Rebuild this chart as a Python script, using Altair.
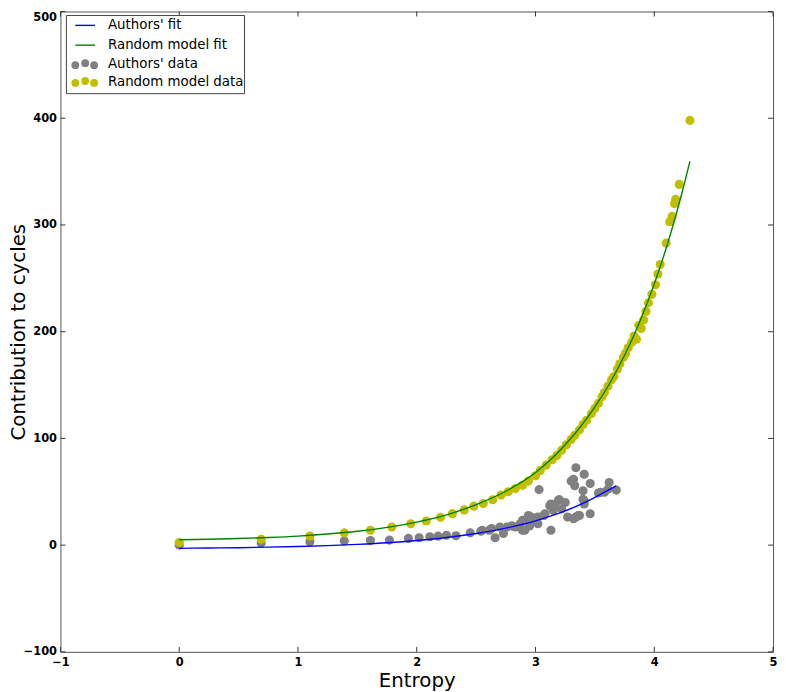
import altair as alt
import pandas as pd

# ---------------- data ----------------
rand_x = [0.00, 0.69, 1.10, 1.39, 1.61, 1.79, 1.95, 2.08, 2.20, 2.30,
          2.40, 2.48, 2.56, 2.64, 2.71, 2.77, 2.83, 2.89, 2.94, 3.00,
          3.04, 3.09, 3.14, 3.18, 3.22, 3.26, 3.30, 3.33, 3.37, 3.40,
          3.43, 3.47, 3.50, 3.53, 3.56, 3.58, 3.61, 3.64, 3.66, 3.69,
          3.71, 3.74, 3.76, 3.78, 3.81, 3.83, 3.85, 3.87, 3.89, 3.91,
          3.93, 3.95, 3.98, 4.01, 4.03, 4.05, 4.10, 4.13, 4.15, 4.17,
          4.18, 4.21, 4.30]
rand_y = [2.5, 5.5, 8.5, 11.5, 14, 17, 20, 22.6, 26, 29.5,
          33, 36.5, 39, 42.5, 47, 50, 53, 56, 60, 65,
          70, 75, 80, 84, 89, 94, 99, 103, 108, 113,
          117, 123, 128, 133, 139, 143, 149, 155, 158, 165,
          170, 176, 180, 185, 190, 196, 193, 206, 203, 211,
          219, 227, 235, 244, 254, 263, 283, 303, 308, 320,
          324, 338, 398]

auth_x = [0.00, 0.69, 1.10, 1.39, 1.61, 1.77, 1.93, 2.02, 2.11, 2.18,
          2.25, 2.33, 2.45, 2.54, 2.55, 2.61, 2.63, 2.66, 2.70, 2.73,
          2.76, 2.80, 2.83, 2.87, 2.89, 2.89, 2.91, 2.93, 2.95, 2.95,
          2.94, 2.97, 3.02, 3.02, 3.03, 3.07, 3.08, 3.12, 3.13, 3.13,
          3.15, 3.16, 3.19, 3.20, 3.22, 3.25, 3.27, 3.30, 3.32, 3.32,
          3.33, 3.34, 3.34, 3.36, 3.37, 3.40, 3.40, 3.41, 3.41, 3.41,
          3.46, 3.46, 3.53, 3.55, 3.58, 3.61, 3.62, 3.68]
auth_y = [0, 2, 3.2, 3.8, 4.4, 4.7, 6.3, 6.9, 7.9, 8.4,
          9.3, 8.8, 11.5, 13, 14, 14, 15.5, 6.9, 17, 10.9,
          17, 18, 17, 20, 14, 23.2, 14, 24.8, 18, 20,
          27.8, 26, 20, 26.3, 52, 27.8, 29.4, 37, 14, 38.6,
          32.4, 35.6, 41.7, 42.6, 34, 40, 26.3, 60, 61.7, 24.8,
          55.6, 72.5, 26.3, 27.8, 27.8, 51, 43, 66.4, 38.6, 41.7,
          57.8, 29.4, 48.8, 49.5, 49.5, 52.5, 58.7, 51.6]

afit_x = [0, 0.25, 0.5, 0.75, 1.0, 1.25, 1.5, 1.75, 2.0, 2.25,
          2.5, 2.75, 3.0, 3.125, 3.25, 3.375, 3.5, 3.6, 3.68]
afit_y = [-3.0, -2.7, -2.4, -1.9, -1.3, -0.5, 0.7, 2.2, 4.3, 7.1,
          10.9, 16.0, 22.8, 27.1, 32.1, 37.9, 44.7, 50.8, 55.6]

rfit_x = [0, 0.25, 0.5, 0.75, 1.0, 1.25, 1.5, 1.75, 2.0, 2.25,
          2.5, 2.75, 3.0, 3.25, 3.5, 3.625, 3.75, 3.875, 4.0, 4.075,
          4.15, 4.225, 4.3]
rfit_y = [5.0, 5.5, 6.2, 7.2, 8.5, 10.4, 13.0, 16.6, 21.6, 28.4,
          38.0, 50.5, 68.0, 94.0, 129.5, 151.7, 177.9, 208.6, 244.8, 269.4,
          296.7, 326.7, 359.7]

x_ticks = [-1, 0, 1, 2, 3, 4, 5]
y_ticks = [-100, 0, 100, 200, 300, 400, 500]

legend_labels = ["Authors' fit", "Random model fit", "Authors' data", "Random model data"]

# ---------------- styling ----------------
W, H = 720, 647
BLUE, GREEN, GRAY, YELLOW = "#0000ff", "#008000", "#808080", "#bfbf00"
FONT = "DejaVu Sans"

xscale = alt.Scale(domain=[-1, 5], nice=False, zero=False)
yscale = alt.Scale(domain=[-100, 500], nice=False, zero=False)

xaxis = alt.Axis(values=x_ticks, format="d", grid=False, domain=False, tickSize=0,
                 labelFont=FONT, labelFontWeight="bold", labelFontSize=11.5,
                 labelColor="#000", labelPadding=5, labelFlush=False, labelOverlap=False,
                 title="Entropy", titleFont=FONT, titleFontSize=20,
                 titleFontWeight="normal", titleColor="#000", titlePadding=3)
yaxis = alt.Axis(values=y_ticks, format="d", grid=False, domain=False, tickSize=0,
                 labelFont=FONT, labelFontWeight="bold", labelFontSize=11.5,
                 labelColor="#000", labelPadding=4, labelOverlap=False,
                 labelBaseline={"condition": {"test": "datum.value == 500", "value": "top"},
                                "value": "middle"},
                 title="Contribution to cycles", titleFont=FONT, titleFontSize=20,
                 titleFontWeight="normal", titleColor="#000",
                 titleX=-42, titleY=H / 2, titleBaseline="middle", titleAlign="center",
                 titleAngle=270)


def X(f):
    return alt.X(f, type="quantitative", scale=xscale, axis=xaxis)


def Y(f):
    return alt.Y(f, type="quantitative", scale=yscale, axis=yaxis)


auth_df = pd.DataFrame({"x": auth_x, "y": auth_y})
rand_df = pd.DataFrame({"x": rand_x, "y": rand_y})
afit_df = pd.DataFrame({"x": afit_x, "y": afit_y})
rfit_df = pd.DataFrame({"x": rfit_x, "y": rfit_y})

layers = []
layers.append(alt.Chart(auth_df).mark_circle(size=85, color=GRAY, opacity=1).encode(x=X("x"), y=Y("y")))
layers.append(alt.Chart(rand_df).mark_circle(size=85, color=YELLOW, opacity=1).encode(x=X("x"), y=Y("y")))
layers.append(alt.Chart(afit_df).mark_line(color=BLUE, strokeWidth=1.4, interpolate="monotone").encode(x=X("x"), y=Y("y")))
layers.append(alt.Chart(rfit_df).mark_line(color=GREEN, strokeWidth=1.4, interpolate="monotone").encode(x=X("x"), y=Y("y")))

# inward ticks on all four sides
xt = pd.DataFrame({"v": x_ticks})
yt = pd.DataFrame({"v": y_ticks})
TL = 5
TC = "#333"
layers.append(alt.Chart(xt).mark_rule(color=TC, strokeWidth=1).encode(x=X("v"), y=alt.value(H), y2=alt.value(H - TL)))
layers.append(alt.Chart(xt).mark_rule(color=TC, strokeWidth=1).encode(x=X("v"), y=alt.value(0), y2=alt.value(TL)))
layers.append(alt.Chart(yt).mark_rule(color=TC, strokeWidth=1).encode(y=Y("v"), x=alt.value(0), x2=alt.value(TL)))
layers.append(alt.Chart(yt).mark_rule(color=TC, strokeWidth=1).encode(y=Y("v"), x=alt.value(W), x2=alt.value(W - TL)))

# legend (drawn by hand, matplotlib style)
one = pd.DataFrame({"k": [0]})
layers.append(alt.Chart(one).mark_rect(fill="white", stroke="#444", strokeWidth=1).encode(
    x=alt.value(6), x2=alt.value(186), y=alt.value(4), y2=alt.value(83)))
row_y = [14, 34, 53, 71]
layers.append(alt.Chart(one).mark_rule(color=BLUE, strokeWidth=1.4).encode(
    x=alt.value(15), x2=alt.value(35), y=alt.value(row_y[0])))
layers.append(alt.Chart(one).mark_rule(color=GREEN, strokeWidth=1.4).encode(
    x=alt.value(15), x2=alt.value(35), y=alt.value(row_y[1])))
for i, col in ((2, GRAY), (3, YELLOW)):
    for dx, dy in ((15, 1.2), (25, -0.8), (34, 1.2)):
        layers.append(alt.Chart(one).mark_circle(size=62, color=col, opacity=1).encode(
            x=alt.value(dx), y=alt.value(row_y[i] + dy)))
for i, lab in enumerate(legend_labels):
    layers.append(alt.Chart(pd.DataFrame({"label": [lab]})).mark_text(
        align="left", baseline="middle", font=FONT, fontSize=13.5, color="#000").encode(
        x=alt.value(48), y=alt.value(row_y[i]), text="label:N"))

chart = alt.layer(*layers).properties(
    width=W, height=H,
    padding={"left": 53, "top": 0, "right": 5, "bottom": 37},
    autosize="none",
    background="white",
).configure_view(stroke="#555", strokeWidth=1)

chart.save("out.html", embed_options={"renderer": "svg", "actions": False})
